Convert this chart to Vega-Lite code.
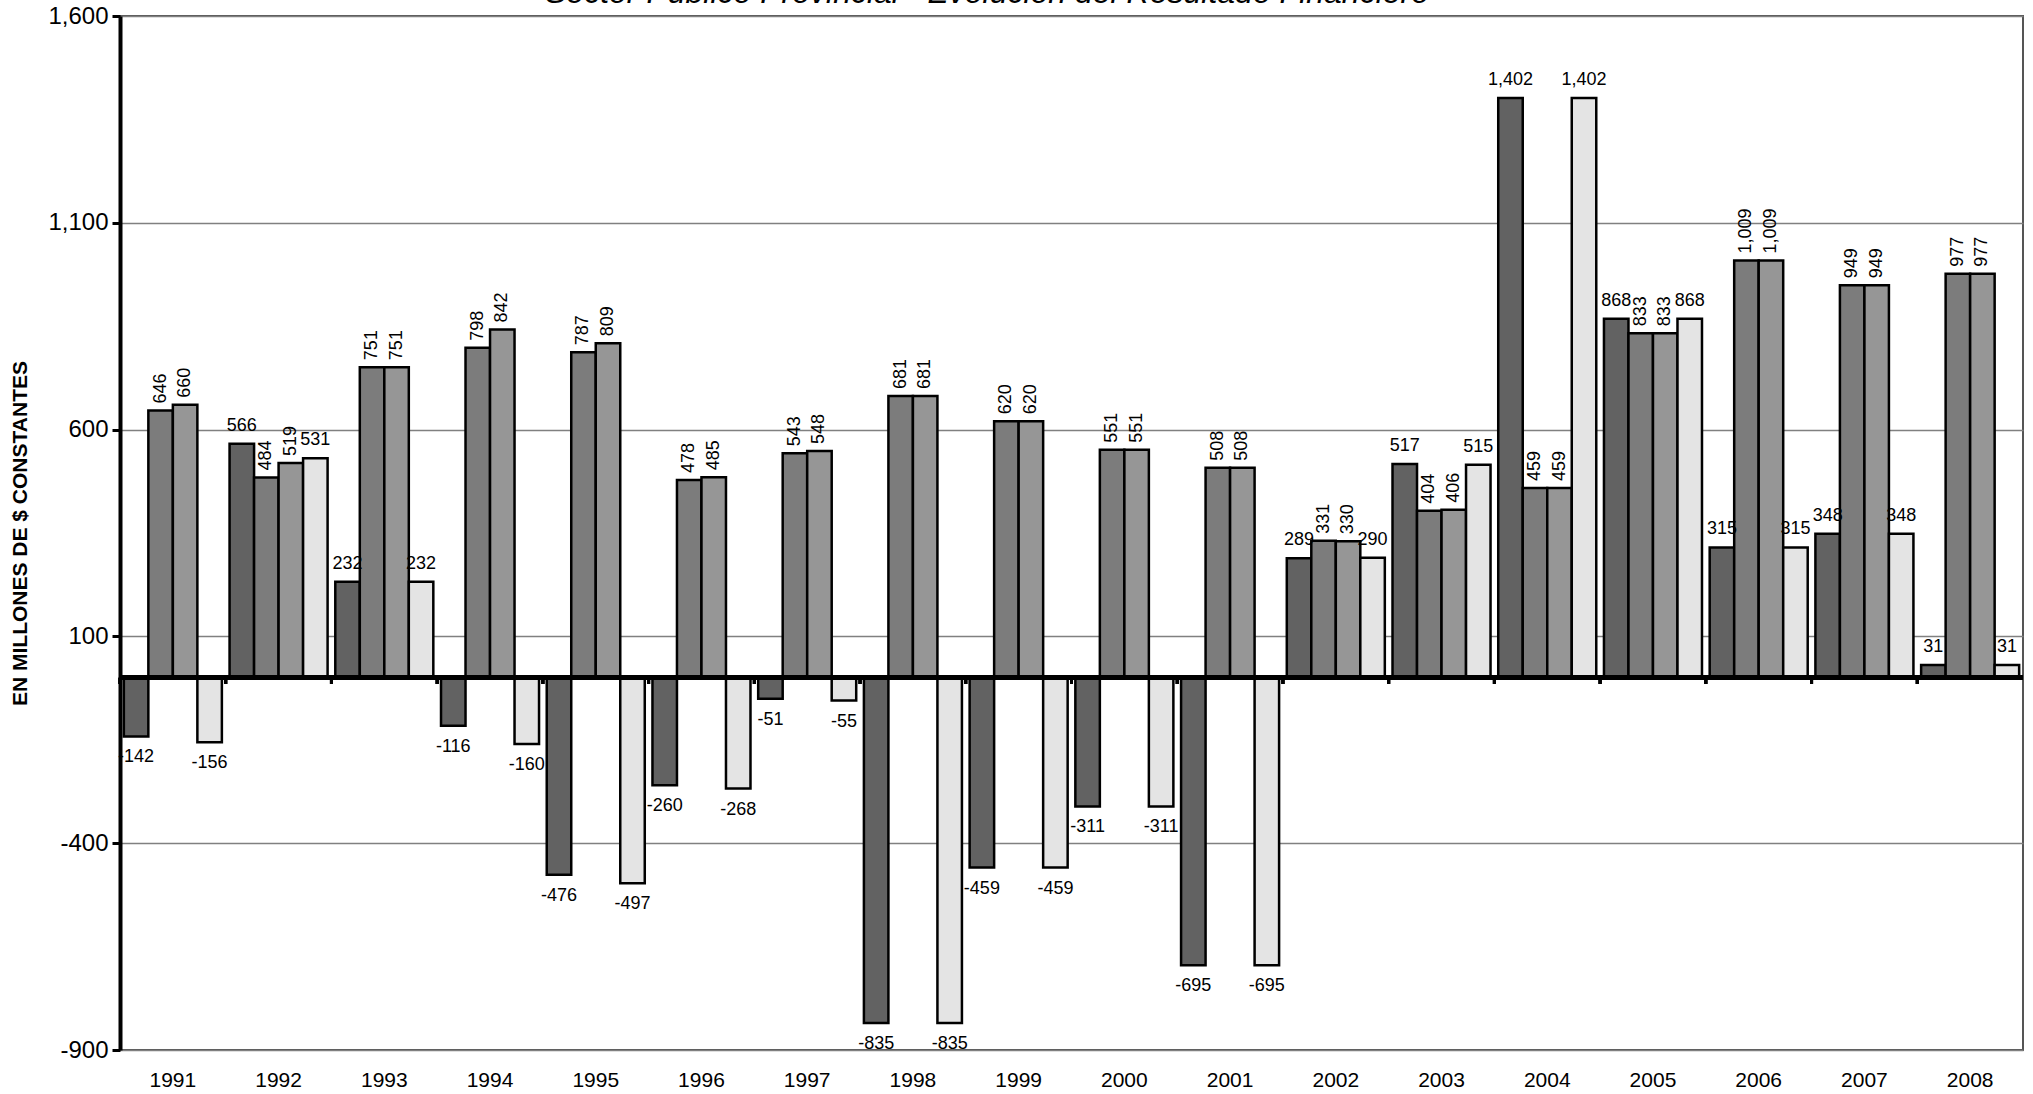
{
  "$schema": "https://vega.github.io/schema/vega-lite/v6.json",
  "autosize": "none",
  "width": 1903,
  "height": 1034,
  "padding": {"left": 120, "top": 16, "right": 10, "bottom": 44},
  "background": "white",
  "title": {
    "text": "Sector Público Provincial  - Evolución del Resultado  Financiero",
    "anchor": "start",
    "frame": "group",
    "dx": 425,
    "offset": -31,
    "baseline": "alphabetic",
    "font": "Liberation Sans",
    "fontSize": 32,
    "fontStyle": "italic",
    "fontWeight": "normal",
    "color": "black"
  },
  "config": {
    "font": "Liberation Sans",
    "view": {"stroke": "#555555", "strokeWidth": 2},
    "locale": {
      "number": {"decimal": ".", "thousands": ",", "grouping": [3], "currency": ["$", ""], "minus": "-"}
    }
  },
  "data": {
    "values": [
      {"year": "1991", "s": "A", "v": -142}, {"year": "1991", "s": "B", "v": 646}, {"year": "1991", "s": "C", "v": 660}, {"year": "1991", "s": "D", "v": -156},
      {"year": "1992", "s": "A", "v": 566}, {"year": "1992", "s": "B", "v": 484}, {"year": "1992", "s": "C", "v": 519}, {"year": "1992", "s": "D", "v": 531},
      {"year": "1993", "s": "A", "v": 232}, {"year": "1993", "s": "B", "v": 751}, {"year": "1993", "s": "C", "v": 751}, {"year": "1993", "s": "D", "v": 232},
      {"year": "1994", "s": "A", "v": -116}, {"year": "1994", "s": "B", "v": 798}, {"year": "1994", "s": "C", "v": 842}, {"year": "1994", "s": "D", "v": -160},
      {"year": "1995", "s": "A", "v": -476}, {"year": "1995", "s": "B", "v": 787}, {"year": "1995", "s": "C", "v": 809}, {"year": "1995", "s": "D", "v": -497},
      {"year": "1996", "s": "A", "v": -260}, {"year": "1996", "s": "B", "v": 478}, {"year": "1996", "s": "C", "v": 485}, {"year": "1996", "s": "D", "v": -268},
      {"year": "1997", "s": "A", "v": -51}, {"year": "1997", "s": "B", "v": 543}, {"year": "1997", "s": "C", "v": 548}, {"year": "1997", "s": "D", "v": -55},
      {"year": "1998", "s": "A", "v": -835}, {"year": "1998", "s": "B", "v": 681}, {"year": "1998", "s": "C", "v": 681}, {"year": "1998", "s": "D", "v": -835},
      {"year": "1999", "s": "A", "v": -459}, {"year": "1999", "s": "B", "v": 620}, {"year": "1999", "s": "C", "v": 620}, {"year": "1999", "s": "D", "v": -459},
      {"year": "2000", "s": "A", "v": -311}, {"year": "2000", "s": "B", "v": 551}, {"year": "2000", "s": "C", "v": 551}, {"year": "2000", "s": "D", "v": -311},
      {"year": "2001", "s": "A", "v": -695}, {"year": "2001", "s": "B", "v": 508}, {"year": "2001", "s": "C", "v": 508}, {"year": "2001", "s": "D", "v": -695},
      {"year": "2002", "s": "A", "v": 289}, {"year": "2002", "s": "B", "v": 331}, {"year": "2002", "s": "C", "v": 330}, {"year": "2002", "s": "D", "v": 290},
      {"year": "2003", "s": "A", "v": 517}, {"year": "2003", "s": "B", "v": 404}, {"year": "2003", "s": "C", "v": 406}, {"year": "2003", "s": "D", "v": 515},
      {"year": "2004", "s": "A", "v": 1402}, {"year": "2004", "s": "B", "v": 459}, {"year": "2004", "s": "C", "v": 459}, {"year": "2004", "s": "D", "v": 1402},
      {"year": "2005", "s": "A", "v": 868}, {"year": "2005", "s": "B", "v": 833}, {"year": "2005", "s": "C", "v": 833}, {"year": "2005", "s": "D", "v": 868},
      {"year": "2006", "s": "A", "v": 315}, {"year": "2006", "s": "B", "v": 1009}, {"year": "2006", "s": "C", "v": 1009}, {"year": "2006", "s": "D", "v": 315},
      {"year": "2007", "s": "A", "v": 348}, {"year": "2007", "s": "B", "v": 949}, {"year": "2007", "s": "C", "v": 949}, {"year": "2007", "s": "D", "v": 348},
      {"year": "2008", "s": "A", "v": 31}, {"year": "2008", "s": "B", "v": 977}, {"year": "2008", "s": "C", "v": 977}, {"year": "2008", "s": "D", "v": 31}
    ]
  },
  "encoding": {
    "x": {
      "field": "year",
      "type": "nominal",
      "scale": {"paddingInner": 0, "paddingOuter": 0},
      "axis": {
        "title": null,
        "orient": "bottom",
        "ticks": false,
        "tickSize": 0,
        "domain": false,
        "grid": false,
        "labelAngle": 0,
        "labelFont": "Liberation Sans",
        "labelFontSize": 21,
        "labelColor": "black",
        "labelBaseline": "middle",
        "labelPadding": 30
      }
    },
    "y": {
      "field": "v",
      "type": "quantitative",
      "scale": {"domain": [-900, 1600], "nice": false, "zero": false},
      "axis": {
        "values": [-900, -400, 100, 600, 1100, 1600],
        "format": ",d",
        "title": "EN MILLONES DE $ CONSTANTES",
        "titleFont": "Liberation Sans",
        "titleFontSize": 21,
        "titleFontWeight": "bold",
        "titleColor": "black",
        "titleX": -100,
        "titleY": 517,
        "titleBaseline": "middle",
        "titleAngle": 270,
        "labelFont": "Liberation Sans",
        "labelFontSize": 24,
        "labelColor": "black",
        "labelPadding": 4,
        "tickSize": 8,
        "tickWidth": 3,
        "tickColor": "black",
        "domainColor": "black",
        "domainWidth": 4,
        "grid": true,
        "gridColor": "#808080",
        "gridWidth": 1.5
      }
    }
  },
  "layer": [
    {
      "mark": {"type": "bar", "stroke": "black", "strokeWidth": 2.5},
      "encoding": {
        "xOffset": {"field": "s", "type": "nominal", "scale": {"domain": ["A", "B", "C", "D"], "paddingInner": 0, "paddingOuter": 0.157}},
        "fill": {"field": "s", "type": "nominal", "scale": {"domain": ["A", "B", "C", "D"], "range": ["#626262", "#7c7c7c", "#969696", "#e4e4e4"]}, "legend": null}
      }
    },
    {
      "mark": {"type": "rule", "color": "black", "strokeWidth": 4},
      "encoding": {"y": {"datum": 0}, "x": null}
    },
    {
      "mark": {"type": "rule", "color": "black", "strokeWidth": 3},
      "encoding": {
        "x": {"field": "year", "type": "nominal", "bandPosition": 0},
        "y": {"datum": 0},
        "y2": {"datum": -15}
      }
    },
    {
      "transform": [{"filter": "datum.v > 0 && (datum.s == 'A' || datum.s == 'D')"}],
      "mark": {"type": "text", "baseline": "alphabetic", "align": "center", "dy": -13, "fontSize": 18, "color": "black"},
      "encoding": {
        "xOffset": {"field": "s", "type": "nominal"},
        "text": {"field": "v", "type": "quantitative", "format": ","}
      }
    },
    {
      "transform": [{"filter": "datum.v > 0 && (datum.s == 'B' || datum.s == 'C')"}],
      "mark": {"type": "text", "baseline": "middle", "align": "left", "angle": 270, "dx": 7, "fontSize": 18, "color": "black"},
      "encoding": {
        "xOffset": {"field": "s", "type": "nominal"},
        "text": {"field": "v", "type": "quantitative", "format": ","}
      }
    },
    {
      "transform": [{"filter": "datum.v < 0"}],
      "mark": {"type": "text", "baseline": "top", "align": "center", "dy": 12, "fontSize": 18, "color": "black"},
      "encoding": {
        "xOffset": {"field": "s", "type": "nominal"},
        "text": {"field": "v", "type": "quantitative", "format": ","}
      }
    }
  ]
}
